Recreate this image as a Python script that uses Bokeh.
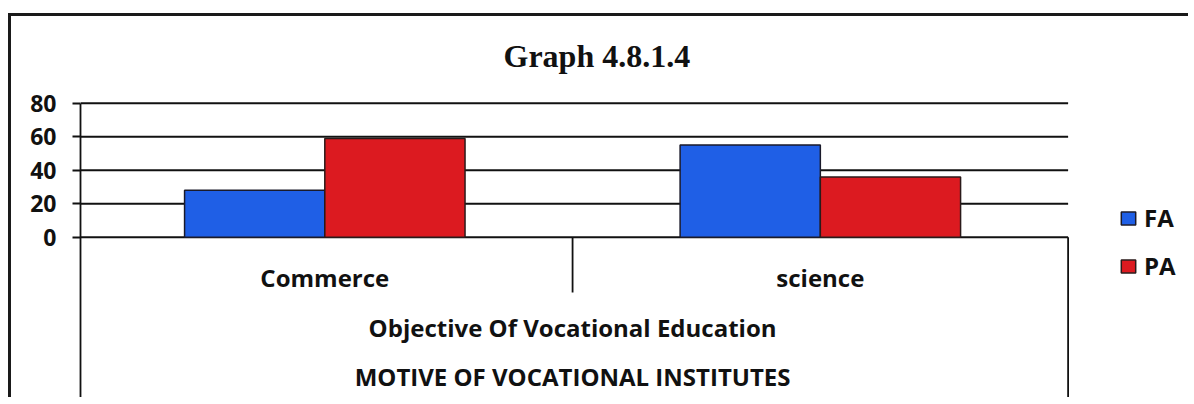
from bokeh.plotting import figure
from bokeh.models import Range1d, FixedTicker, Legend, LegendItem
from bokeh.transform import dodge
from bokeh.core.properties import value
from bokeh.embed import file_html
from bokeh.resources import INLINE

categories = ["Commerce", "science"]
fa_values = [28, 55]
pa_values = [59, 36]
series = ["FA", "PA"]
y_ticks = [0, 20, 40, 60, 80]
title_text = "Graph 4.8.1.4"
level2_label = "Objective Of Vocational Education"
level3_label = "MOTIVE OF VOCATIONAL INSTITUTES"

FONT = "Open Sans"
INK = "#111111"

n = len(categories)
x_pos = [i + 0.5 for i in range(n)]
y_bottom, y_top = -95.7, 131.2

p = figure(
    width=1180, height=384,
    x_range=Range1d(0.007, 2.249),
    y_range=Range1d(y_bottom, y_top),
    output_backend="svg", toolbar_location=None,
    min_border_left=69, min_border_right=0, min_border_top=1, min_border_bottom=3,
)
p.outline_line_color = None
p.styles = {"margin-top": "13px", "margin-left": "8px",
            "border-top": "3px solid #1a1a1a", "border-left": "3px solid #1a1a1a"}

p.xaxis.visible = False
p.xgrid.grid_line_color = None
p.ygrid.grid_line_color = None

ax = p.yaxis[0]
ax.ticker = FixedTicker(ticks=y_ticks)
ax.bounds = (y_bottom, max(y_ticks))
ax.axis_line_color = INK
ax.axis_line_width = 1.8
ax.major_tick_in = 0
ax.major_tick_out = 8
ax.major_tick_line_color = INK
ax.major_tick_line_width = 1.8
ax.minor_tick_line_color = None
ax.major_label_standoff = 16
ax.major_label_text_font = FONT
ax.major_label_text_font_style = "bold"
ax.major_label_text_font_size = "23px"
ax.major_label_text_color = INK

# chart title
p.text(x=[1.049], y=[108], text=[title_text],
       text_font=value("Liberation Serif"), text_font_style="bold", text_font_size="32px",
       text_align="center", text_baseline="middle", text_color=INK)

# horizontal gridlines across the plot area only
p.segment(x0=[0.007] * len(y_ticks), x1=[n] * len(y_ticks), y0=y_ticks, y1=y_ticks,
          line_color=INK, line_width=1.8)

bw = 0.283
src = dict(x=x_pos, FA=fa_values, PA=pa_values)
r_fa = p.vbar(x=dodge("x", -bw / 2), top="FA", width=bw, bottom=0,
              source=src, fill_color="#1f5fe6", line_color="#1a1a2a", line_width=1.5)
r_pa = p.vbar(x=dodge("x", bw / 2), top="PA", width=bw, bottom=0,
              source=src, fill_color="#dc1a20", line_color="#2a1a1a", line_width=1.5)

# category labels (multi-level axis)
p.text(x=x_pos, y=[-24] * n, text=categories,
       text_font=value(FONT), text_font_style="bold", text_font_size="24px",
       text_align="center", text_baseline="middle", text_color=INK)
p.text(x=[n / 2], y=[-54], text=[level2_label],
       text_font=value(FONT), text_font_style="bold", text_font_size="24px",
       text_align="center", text_baseline="middle", text_color=INK)
p.text(x=[n / 2], y=[-83], text=[level3_label],
       text_font=value(FONT), text_font_style="bold", text_font_size="24px",
       text_align="center", text_baseline="middle", text_color=INK)

# separator lines of the multi-level axis
p.segment(x0=list(range(1, n)), x1=list(range(1, n)),
          y0=[0] * (n - 1), y1=[-33] * (n - 1), line_color=INK, line_width=1.8)
p.segment(x0=[n], x1=[n], y0=[0], y1=[y_bottom], line_color=INK, line_width=1.8)

legend = Legend(
    items=[LegendItem(label=series[0], renderers=[r_fa]),
           LegendItem(label=series[1], renderers=[r_pa])],
    location=(1039, 115),
    border_line_color=None, background_fill_alpha=0,
    padding=0, margin=0, spacing=15,
    glyph_width=18, glyph_height=16, label_height=28, label_standoff=7,
    label_text_font=FONT, label_text_font_style="bold", label_text_font_size="24px",
    label_text_color=INK,
)
p.add_layout(legend, "center")

open("out.html", "w").write(file_html(p, INLINE))
